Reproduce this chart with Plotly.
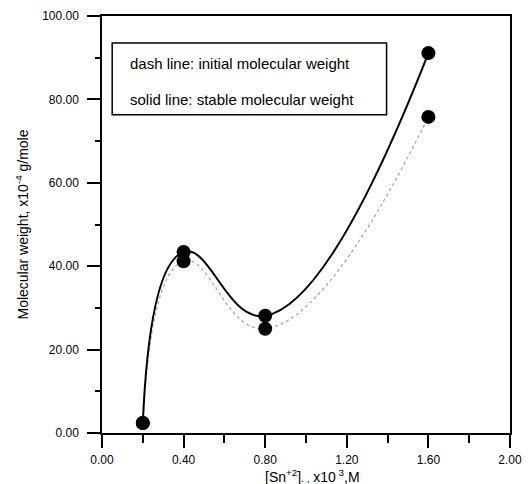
import plotly.graph_objects as go

# Tin(II) concentration, x10^3 M
sn_conc = [0.2, 0.4, 0.8, 1.6]
# Molecular weight, x10^-4 g/mole
stable_mw = [2.4, 43.4, 28.1, 91.1]
initial_mw = [2.4, 41.2, 25.0, 75.8]

x_ticks = [0.0, 0.4, 0.8, 1.2, 1.6, 2.0]
y_ticks = [0, 20, 40, 60, 80, 100]

FONT = "Liberation Sans, Arial, sans-serif"

fig = go.Figure()

# initial molecular weight: light dotted curve
fig.add_trace(go.Scatter(
    x=sn_conc, y=initial_mw, mode="lines",
    line=dict(color="#a0a0a0", width=1.2, dash="dot", shape="spline", smoothing=1.3),
    showlegend=False, hoverinfo="skip",
))
# stable molecular weight: solid curve
fig.add_trace(go.Scatter(
    x=sn_conc, y=stable_mw, mode="lines",
    line=dict(color="black", width=2, shape="spline", smoothing=1.3),
    showlegend=False, hoverinfo="skip",
))
# data points
for vals in (initial_mw, stable_mw):
    fig.add_trace(go.Scatter(
        x=sn_conc, y=vals, mode="markers",
        marker=dict(color="black", size=14, line=dict(width=0)),
        showlegend=False,
    ))

# annotation box
fig.add_shape(type="rect", xref="x", yref="y",
              x0=0.05, x1=1.395, y0=76.3, y1=93.5,
              line=dict(color="black", width=1.5), fillcolor="white", layer="below")
fig.add_annotation(x=0.127, y=88.7, xref="x", yref="y", xanchor="left", showarrow=False,
                   text="dash line: initial molecular weight",
                   font=dict(family=FONT, size=15, color="black"))
fig.add_annotation(x=0.127, y=79.9, xref="x", yref="y", xanchor="left", showarrow=False,
                   text="solid line: stable molecular weight",
                   font=dict(family=FONT, size=15, color="black"))

# x-axis title, set just under the tick labels
fig.add_annotation(x=0.517, y=-0.104, xref="paper", yref="paper",
                   xanchor="center", yanchor="middle", showarrow=False,
                   text="[Sn<sup>+2</sup>]<span style='font-size:10px'>. ,</span> x10<sup> 3</sup>,M",
                   font=dict(family=FONT, size=14, color="black"))

fig.update_layout(
    width=532, height=484,
    margin=dict(l=102, r=22, t=16, b=51),
    paper_bgcolor="white", plot_bgcolor="white",
    font=dict(family=FONT, size=12, color="black"),
)

fig.update_xaxes(
    range=[0, 2], tickvals=x_ticks, ticktext=[f"{v:.2f}" for v in x_ticks],
    showgrid=False, zeroline=False, automargin=False,
    showline=True, linecolor="black", linewidth=1.5, mirror=True,
    ticks="outside", ticklen=13, tickwidth=1.5, tickcolor="black",
    minor=dict(dtick=0.2, tick0=0, ticks="outside", ticklen=8, tickwidth=1.5, tickcolor="black"),
    tickfont=dict(size=12), ticklabelstandoff=2,
)
fig.update_yaxes(
    range=[0, 100], tickvals=y_ticks, ticktext=[f"{v:.2f}" for v in y_ticks],
    showgrid=False, zeroline=False, automargin=False,
    showline=True, linecolor="black", linewidth=1.5, mirror=True,
    ticks="outside", ticklen=13, tickwidth=1.5, tickcolor="black",
    minor=dict(dtick=10, tick0=0, ticks="outside", ticklen=5, tickwidth=1.5, tickcolor="black"),
    tickfont=dict(size=12), ticklabelstandoff=6,
    title=dict(text="Molecular weight, x10<sup>-4</sup> g/mole",
               font=dict(size=14), standoff=10),
)

fig.write_html("out.html")
